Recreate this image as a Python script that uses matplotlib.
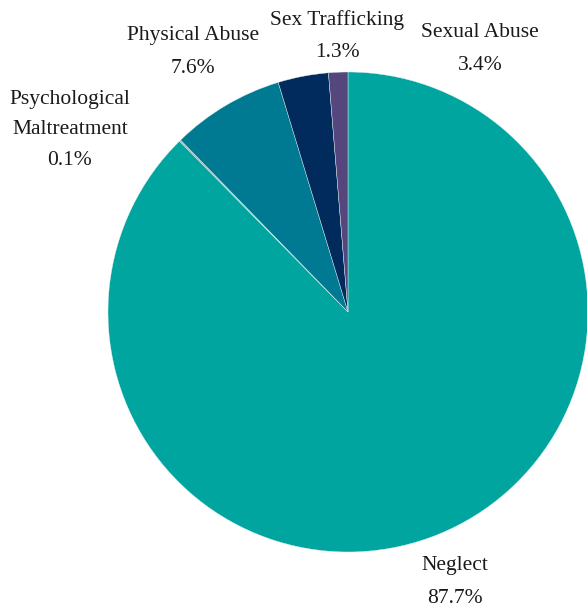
import matplotlib
matplotlib.use("Agg")
import matplotlib.pyplot as plt

categories = ["Neglect", "Psychological Maltreatment", "Physical Abuse", "Sexual Abuse", "Sex Trafficking"]
values = [87.7, 0.1, 7.6, 3.4, 1.3]
label_texts = ["Neglect\n87.7%", "Psychological\nMaltreatment\n0.1%", "Physical Abuse\n7.6%",
               "Sexual Abuse\n3.4%", "Sex Trafficking\n1.3%"]
colors = ["#00A59F", "#6FC3BC", "#007A92", "#002B5C", "#56467E"]

W, H = 587, 609
fig = plt.figure(figsize=(W / 100, H / 100), dpi=100)
cx, cy, r = 348, 312, 240
ax = fig.add_axes([(cx - r) / W, (H - cy - r) / H, 2 * r / W, 2 * r / H])
ax.pie(values, colors=colors, startangle=90, counterclock=False,
       wedgeprops=dict(edgecolor="#dfeeee", linewidth=0.3), radius=1)
ax.set_xlim(-1, 1)
ax.set_ylim(-1, 1)
ax.set_aspect("auto")
ax.axis("off")

font = dict(family=["Liberation Serif", "DejaVu Serif"], fontsize=15.5, color="#1a1a1a",
            ha="center", va="center")
# label positions in pixel coordinates (centres) and line spacing
label_pos = [(455, 582), (70, 130), (193, 52), (480, 49), (337, 36)]
spacings = [1.95, 1.8, 2.0, 1.95, 1.95]
for txt, (px, py), ls in zip(label_texts, label_pos, spacings):
    fig.text(px / W, 1 - py / H, txt, linespacing=ls, **font)

fig.savefig("out.png", dpi=100)
